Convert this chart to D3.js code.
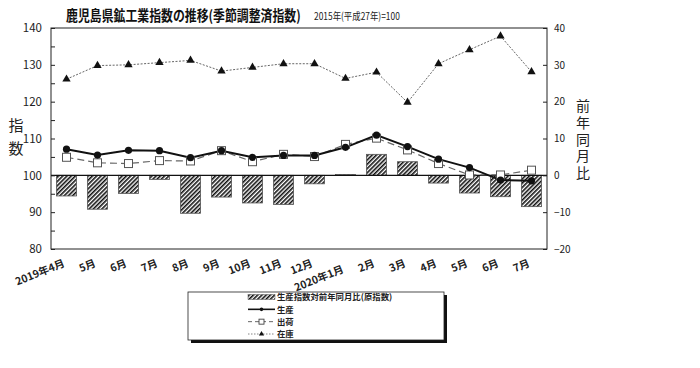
<!DOCTYPE html>
<html><head><meta charset="utf-8">
<script src="https://cdn.jsdelivr.net/npm/d3@7"></script>
<style>body{margin:0;background:#fff}svg{display:block}text{font-family:"Noto Sans CJK JP","Noto Sans",sans-serif}</style>
</head><body><svg id="c" width="700" height="368"></svg>
<script>
const months = ["2019年4月","5月","6月","7月","8月","9月","10月","11月","12月","2020年1月","2月","3月","4月","5月","6月","7月"];
const yoyProduction = [-5.6,-9.2,-4.9,-1.1,-10.3,-5.9,-7.5,-7.9,-2.3,0.2,5.7,3.7,-2.1,-4.8,-5.8,-8.5];
const production = [107.1,105.5,106.8,106.7,104.8,106.7,104.9,105.4,105.4,107.6,110.9,107.8,104.4,102.1,98.7,98.5];
const shipments = [104.9,103.4,103.2,104.0,103.9,106.7,103.7,105.7,105.1,108.4,110.1,106.9,103.2,100.1,100.1,101.4];
const inventory = [126.1,129.8,130.0,130.6,131.2,128.3,129.3,130.3,130.3,126.3,128.0,119.8,130.3,134.1,137.8,128.1];
const leftTicks = [80,90,100,110,120,130,140];
const rightTicks = [-20,-10,0,10,20,30,40];
const legendLabels = ["生産指数対前年同月比(原指数)","生産","出荷","在庫"];

const svg = d3.select("#c");
const L=51, R=547, T=28, B=249;
const x = d3.scaleBand().domain(months.map((m,i)=>i)).range([L,R]).paddingInner(0.35).paddingOuter(0.175);
const xc = i => x(i)+x.bandwidth()/2;
const y = d3.scaleLinear().domain([80,140]).range([B,T]);
const y2 = d3.scaleLinear().domain([-20,40]).range([B,T]);

const defs = svg.append("defs");
const pat = defs.append("pattern").attr("id","hatch").attr("patternUnits","userSpaceOnUse")
  .attr("width",3).attr("height",3).attr("patternTransform","rotate(45)");
pat.append("rect").attr("width",3).attr("height",3).attr("fill","#fff");
pat.append("rect").attr("width",1.6).attr("height",3).attr("fill","#111");

// bars
svg.append("g").selectAll("rect").data(yoyProduction).join("rect")
  .attr("x",(d,i)=>x(i)).attr("width",x.bandwidth())
  .attr("y",d=>y2(Math.max(0,d))).attr("height",d=>Math.max(0.8,Math.abs(y2(d)-y2(0))))
  .attr("fill","url(#hatch)").attr("stroke","#555").attr("stroke-width",0.8);

// frame
svg.append("rect").attr("x",L).attr("y",T).attr("width",R-L).attr("height",B-T).attr("fill","none").attr("stroke","#222").attr("stroke-width",1);
svg.append("line").attr("x1",L).attr("x2",R).attr("y1",y(100)).attr("y2",y(100)).attr("stroke","#111").attr("stroke-width",1.2);

// left axis
const la = svg.append("g").attr("transform",`translate(${L},0)`)
  .call(d3.axisLeft(y).tickValues(d3.range(80,141,5)).tickSize(-4).tickFormat(d=>leftTicks.includes(d)?d:""));
la.select(".domain").remove();
la.selectAll("line").attr("stroke","#222");
la.selectAll("text").attr("x",-9).attr("font-size",11.5).attr("fill","#222").attr("font-family","Liberation Sans, Arial, sans-serif");
// right axis
const ra = svg.append("g").attr("transform",`translate(${R},0)`)
  .call(d3.axisRight(y2).tickValues(rightTicks).tickSize(-4).tickFormat(d=>d<0?"−"+Math.abs(d):d));
ra.select(".domain").remove();
ra.selectAll("line").attr("stroke","#222");
ra.selectAll("text").attr("x",7).attr("font-size",10).attr("fill","#222").attr("font-family","Liberation Sans, Arial, sans-serif");

// x labels
svg.append("g").selectAll("text").data(months).join("text")
  .attr("transform",(d,i)=>`translate(${xc(i)-1},${i===9?272:266}) rotate(-22)`)
  .attr("text-anchor","end").attr("font-size",10.5).attr("font-weight","bold").attr("fill","#222").text(d=>d);

// lines
const line = d3.line().x((d,i)=>xc(i)).y(d=>y(d));
svg.append("path").datum(inventory).attr("d",line).attr("fill","none").attr("stroke","#666").attr("stroke-width",1).attr("stroke-dasharray","2,1.5");
svg.append("path").datum(shipments).attr("d",line).attr("fill","none").attr("stroke","#666").attr("stroke-width",1.2).attr("stroke-dasharray","7,4");
svg.append("path").datum(production).attr("d",line).attr("fill","none").attr("stroke","#111").attr("stroke-width",2);

const tri = d3.symbol().type(d3.symbolTriangle).size(30);
svg.append("g").selectAll("path").data(inventory).join("path")
  .attr("transform",(d,i)=>`translate(${xc(i)},${y(d)})`).attr("d",tri).attr("fill","#111");
svg.append("g").selectAll("rect").data(shipments).join("rect")
  .attr("x",(d,i)=>xc(i)-4).attr("y",d=>y(d)-4).attr("width",8).attr("height",8)
  .attr("fill","#fff").attr("stroke","#555").attr("stroke-width",1);
svg.append("g").selectAll("circle").data(production).join("circle")
  .attr("cx",(d,i)=>xc(i)).attr("cy",d=>y(d)).attr("r",3.6).attr("fill","#111");

// titles
svg.append("text").attr("transform","translate(66,21) scale(0.82,1)").attr("font-size",14.5).attr("font-weight","bold").attr("fill","#111")
  .text("鹿児島県鉱工業指数の推移(季節調整済指数)");
svg.append("text").attr("transform","translate(314,20) scale(0.8,1)").attr("font-size",10.5).attr("fill","#222")
  .text("2015年(平成27年)=100");

// axis titles
["指","数"].forEach((c,i)=>svg.append("text").attr("x",16).attr("y",131+i*23).attr("text-anchor","middle").attr("font-size",15).attr("fill","#222").text(c));
svg.append("text").attr("x",583).attr("y",99).attr("font-size",14).attr("fill","#222")
  .style("writing-mode","vertical-rl").style("letter-spacing","2.7px").text("前年同月比");

// legend
const lg = svg.append("g");
const bx=188, by=292, bw=256, bh=48;
lg.append("rect").attr("x",bx+3).attr("y",by+3).attr("width",bw).attr("height",bh).attr("fill","#111");
lg.append("rect").attr("x",bx).attr("y",by).attr("width",bw).attr("height",bh).attr("fill","#fff").attr("stroke","#222").attr("stroke-width",0.8);
const ly = d3.scalePoint().domain(legendLabels).range([by+5,by+42]);
const sx0=248, sx1=275;
lg.append("rect").attr("x",sx0).attr("y",ly(legendLabels[0])-2.5).attr("width",sx1-sx0).attr("height",5).attr("fill","url(#hatch)").attr("stroke","#555").attr("stroke-width",0.5);
lg.append("line").attr("x1",sx0).attr("x2",sx1).attr("y1",ly(legendLabels[1])).attr("y2",ly(legendLabels[1])).attr("stroke","#111").attr("stroke-width",1.6);
lg.append("circle").attr("cx",(sx0+sx1)/2).attr("cy",ly(legendLabels[1])).attr("r",1.8).attr("fill","#111");
lg.append("line").attr("x1",sx0).attr("x2",sx1).attr("y1",ly(legendLabels[2])).attr("y2",ly(legendLabels[2])).attr("stroke","#666").attr("stroke-width",1).attr("stroke-dasharray","4,3");
lg.append("rect").attr("x",(sx0+sx1)/2-2.5).attr("y",ly(legendLabels[2])-2.5).attr("width",5).attr("height",5).attr("fill","#fff").attr("stroke","#444").attr("stroke-width",0.9);
lg.append("line").attr("x1",sx0).attr("x2",sx1).attr("y1",ly(legendLabels[3])).attr("y2",ly(legendLabels[3])).attr("stroke","#666").attr("stroke-width",0.8).attr("stroke-dasharray","1.5,1.5");
lg.append("path").attr("transform",`translate(${(sx0+sx1)/2},${ly(legendLabels[3])})`).attr("d",d3.symbol().type(d3.symbolTriangle).size(12)).attr("fill","#111");
lg.selectAll("text.l").data(legendLabels).join("text").attr("class","l")
  .attr("x",277).attr("y",d=>ly(d)+3.2).attr("font-size",8.4).attr("font-weight","bold").attr("fill","#222").text(d=>d);
</script></body></html>
